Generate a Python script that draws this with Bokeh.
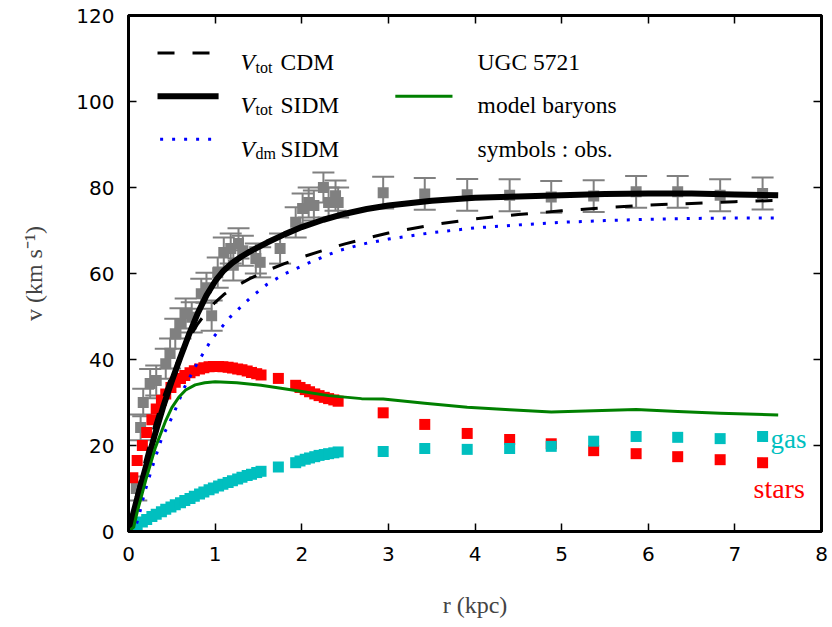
from bokeh.plotting import figure
from bokeh.models import Range1d, LinearAxis, Label, Arrow, FixedTicker, ColumnDataSource
from bokeh.embed import file_html
from bokeh.resources import INLINE

# ---------------- data ----------------
x_ticks = [0, 1, 2, 3, 4, 5, 6, 7, 8]
y_ticks = [0, 20, 40, 60, 80, 100, 120]

# observed rotation curve (gray squares with error bars)
r_obs = [0.09, 0.14, 0.17, 0.25, 0.32, 0.43, 0.48, 0.54, 0.60, 0.66, 0.73, 0.84, 0.90, 0.96,
         1.03, 1.10, 1.18, 1.21, 1.27, 1.32, 1.47, 1.52, 1.75, 1.93, 2.01, 2.08, 2.14, 2.25,
         2.31, 2.39, 2.42, 2.94, 3.42, 3.91, 4.40, 4.88, 5.37, 5.86, 6.34, 6.83, 7.32]
v_obs = [10.0, 24.2, 30.0, 34.4, 35.1, 39.0, 41.4, 46.0, 48.4, 50.7, 49.8, 55.3, 56.7, 50.2,
         60.2, 64.9, 65.8, 61.9, 67.0, 65.3, 63.5, 62.6, 65.8, 71.9, 75.1, 76.5, 75.8, 80.0,
         76.5, 78.1, 76.5, 78.8, 78.5, 78.3, 78.2, 77.8, 78.0, 79.0, 79.0, 78.2, 78.6]
e_obs = [2.8, 3.0, 3.2, 3.4, 3.5, 3.5, 3.5, 3.5, 3.5, 3.5, 3.5, 3.5, 3.5, 3.5,
         3.5, 3.5, 3.5, 3.5, 3.5, 3.5, 3.5, 3.5, 3.5, 3.5, 3.5, 3.5, 3.5, 3.5,
         3.5, 3.5, 3.5, 3.7, 3.7, 3.7, 3.7, 3.7, 3.7, 3.7, 3.7, 3.7, 3.7]

# baryonic components (stars: red, gas: cyan)
r_comp = [0.05, 0.10, 0.16, 0.21, 0.27, 0.32, 0.38, 0.43, 0.49, 0.54, 0.60, 0.65, 0.71, 0.76,
          0.82, 0.87, 0.93, 0.98, 1.04, 1.09, 1.15, 1.20, 1.26, 1.31, 1.37, 1.42, 1.48, 1.53,
          1.73, 1.93, 1.98, 2.04, 2.09, 2.15, 2.20, 2.26, 2.31, 2.37, 2.42,
          2.94, 3.42, 3.91, 4.40, 4.88, 5.37, 5.86, 6.34, 6.83, 7.32]
v_stars = [12.5, 16.5, 20.0, 23.0, 26.0, 28.5, 30.5, 32.0, 33.5, 34.7, 35.6, 36.3, 36.9, 37.4,
           37.8, 38.1, 38.3, 38.4, 38.4, 38.3, 38.2, 38.0, 37.8, 37.6, 37.3, 37.0, 36.7, 36.4,
           35.6, 34.0, 33.5, 33.0, 32.5, 32.0, 31.6, 31.2, 30.9, 30.6, 30.3,
           27.6, 24.9, 22.8, 21.4, 20.4, 18.8, 18.1, 17.4, 16.7, 16.0]
v_gas = [0.8, 1.5, 2.2, 2.8, 3.5, 4.0, 4.6, 5.2, 5.7, 6.2, 6.7, 7.2, 7.7, 8.2,
         8.7, 9.2, 9.7, 10.1, 10.6, 11.0, 11.4, 11.8, 12.2, 12.6, 13.0, 13.3, 13.7, 14.0,
         15.0, 16.0, 16.4, 16.8, 17.1, 17.4, 17.7, 17.9, 18.1, 18.3, 18.5,
         18.6, 19.3, 19.1, 19.3, 19.8, 21.0, 22.1, 21.9, 21.6, 22.1]

# model curves
r_mod = [0, 0.1, 0.2, 0.3, 0.4, 0.5, 0.6, 0.7, 0.8, 0.9, 1.0, 1.1, 1.2, 1.3, 1.4, 1.6, 1.8,
         2.0, 2.25, 2.5, 2.75, 3.0, 3.5, 4.0, 4.5, 5.0, 5.5, 6.0, 6.5, 7.0, 7.5]
v_tot_sidm = [0, 7.7, 15.0, 22.2, 29.0, 35.0, 40.6, 45.9, 50.8, 54.9, 58.2, 60.7, 62.5, 63.9,
              65.1, 67.2, 69.1, 70.8, 72.5, 73.9, 75.0, 75.8, 76.9, 77.6, 77.9, 78.2, 78.5,
              78.6, 78.6, 78.4, 78.2]
v_tot_cdm = [0, 9.0, 17.0, 24.5, 31.0, 36.5, 41.0, 45.0, 48.3, 51.0, 53.3, 55.1, 56.5, 57.7,
             58.8, 60.7, 62.3, 63.8, 65.4, 66.9, 68.2, 69.4, 71.3, 72.7, 73.7, 74.6, 75.3,
             75.9, 76.3, 76.7, 77.0]

r_dm = [0, 0.08, 0.12, 0.16, 0.2, 0.28, 0.38, 0.52, 0.64, 0.79, 0.96, 1.17, 1.41, 1.6, 1.81,
        2.12, 2.42, 2.74, 3.0, 3.5, 4.0, 4.5, 5.0, 5.5, 6.0, 6.5, 7.0, 7.5]
v_dm_sidm = [0, 1.0, 3.5, 7.0, 10.0, 15.3, 21.5, 27.3, 33.3, 39.0, 44.7, 49.8, 54.4, 57.5, 60.0,
             62.8, 65.3, 67.0, 68.0, 69.5, 70.6, 71.3, 71.9, 72.3, 72.6, 72.8, 72.9, 72.9]

r_bar = [0, 0.06, 0.1, 0.2, 0.31, 0.43, 0.5, 0.58, 0.66, 0.77, 0.88, 1.0, 1.25, 1.53, 1.93,
         2.31, 2.69, 2.94, 3.42, 3.91, 4.40, 4.88, 5.37, 5.86, 6.34, 6.83, 7.5]
v_bar = [0, 1.0, 4.5, 12.0, 19.5, 25.8, 28.8, 31.2, 32.9, 34.1, 34.6, 34.8, 34.6, 34.0, 32.8,
         31.6, 30.9, 30.8, 29.8, 28.9, 28.3, 27.8, 28.1, 28.4, 27.9, 27.5, 27.1]

# ---------------- figure ----------------
SERIF = "Liberation Serif"
p = figure(width=830, height=622, output_backend="svg", toolbar_location=None,
           x_range=Range1d(0, 8), y_range=Range1d(0, 120),
           min_border_left=128, min_border_right=9, min_border_top=15, min_border_bottom=91)
p.add_layout(LinearAxis(), "above")
p.add_layout(LinearAxis(), "right")

p.xgrid.grid_line_color = None
p.ygrid.grid_line_color = None
p.outline_line_color = "black"
p.outline_line_width = 3
p.outline_line_alpha = 1.0
p.background_fill_color = "white"
p.border_fill_color = "white"

for ax in p.xaxis:
    ax.ticker = FixedTicker(ticks=x_ticks)
for ax in p.yaxis:
    ax.ticker = FixedTicker(ticks=y_ticks)
for ax in p.axis:
    ax.major_tick_in = 8
    ax.major_tick_out = 0
    ax.minor_tick_line_color = None
    ax.major_tick_line_width = 1.5
    ax.major_tick_line_color = "black"
    ax.axis_line_width = 3
    ax.axis_line_color = "black"
    ax.major_label_text_font = "DejaVu Sans"
    ax.major_label_text_font_size = "20px"
    ax.major_label_text_color = "black"

# top and right axes: ticks only, labels not drawn
for ax in p.above + p.right:
    ax.major_label_text_font_size = "2px"
    ax.major_label_text_color = None
    ax.major_label_text_alpha = 0
    ax.major_label_standoff = 0

xb = p.below[0]
xb.major_label_standoff = 15
xb.axis_label = "r (kpc)"
xb.axis_label_standoff = 28
xb.axis_label_text_font = SERIF
xb.axis_label_text_font_size = "24px"
xb.axis_label_text_font_style = "normal"

yl = p.left[0]
yl.major_label_standoff = 14
yl.axis_label = "v (km s\u207b\u00b9)"
yl.axis_label_standoff = 26
yl.axis_label_text_font = SERIF
yl.axis_label_text_font_size = "24px"
yl.axis_label_text_font_style = "normal"

# ---------------- observed points ----------------
lo = [v - e for v, e in zip(v_obs, e_obs)]
hi = [v + e for v, e in zip(v_obs, e_obs)]
obs = ColumnDataSource(dict(r=r_obs, v=v_obs, lo=lo, hi=hi))
p.segment(x0="r", y0="lo", x1="r", y1="hi", source=obs, line_color="gray", line_width=2)
p.scatter(x="r", y="lo", source=obs, marker="dash", size=22, line_color="gray", line_width=2)
p.scatter(x="r", y="hi", source=obs, marker="dash", size=22, line_color="gray", line_width=2)
p.scatter(x="r", y="v", source=obs, marker="square", size=11, fill_color="gray", line_color=None)

p.scatter(r_comp, v_stars, marker="square", size=11, fill_color="red", line_color=None)
p.scatter(r_comp, v_gas, marker="square", size=11, fill_color="#00bfbf", line_color=None)

# ---------------- model lines ----------------
p.line(r_mod, v_tot_cdm, line_color="black", line_width=3, line_dash="17 18")
p.line(r_mod, v_tot_sidm, line_color="black", line_width=6, line_join="round")
p.line(r_dm, v_dm_sidm, line_color="blue", line_width=3, line_dash="3 9")
p.line(r_bar, v_bar, line_color="green", line_width=3, line_join="round")

# ---------------- legend (drawn by hand, data units) ----------------
LX0, LX1, LTX = 0.335, 1.04, 1.293
RX0, RX1, RTX = 3.08, 3.74, 4.03
row_line = [111.3, 101.2, 91.2]
row_base = [109.1, 99.2, 89.0]
FS = "23.5px"
SUB = "16px"

p.add_layout(Arrow(end=None, x_start=LX0, y_start=row_line[0], x_end=LX1, y_end=row_line[0],
                   line_color="black", line_width=3, line_dash="17 18"))
p.add_layout(Arrow(end=None, x_start=LX0, y_start=row_line[1], x_end=LX1, y_end=row_line[1],
                   line_color="black", line_width=6))
p.add_layout(Arrow(end=None, x_start=LX0 + 0.03, y_start=row_line[2], x_end=LX1, y_end=row_line[2],
                   line_color="blue", line_width=3, line_dash="3 9"))
p.add_layout(Arrow(end=None, x_start=RX0, y_start=row_line[1], x_end=RX1, y_end=row_line[1],
                   line_color="green", line_width=3))


def lab(x, y, text, size=FS, style="normal", dx=0, dy=0, color="black"):
    p.add_layout(Label(x=x, y=y, text=text, x_offset=dx, y_offset=dy, text_font=SERIF,
                       text_font_size=size, text_font_style=style, text_color=color,
                       text_baseline="alphabetic", text_align="left"))


for i, (sub, rest) in enumerate([("tot", "CDM"), ("tot", "SIDM"), ("dm", "SIDM")]):
    lab(LTX, row_base[i], "V", style="italic")
    lab(LTX, row_base[i], sub, size=SUB, dx=15, dy=-5)
    lab(LTX, row_base[i], rest, dx=40)

lab(RTX, row_base[0], "UGC 5721")
lab(RTX, row_base[1], "model baryons")
lab(RTX, row_base[2], "symbols : obs.")

lab(7.41, 21.6, "gas", size="27px", color="#00bfbf")
lab(7.215, 10.0, "stars", size="28px", color="red")

open("out.html", "w").write(file_html(p, INLINE))
